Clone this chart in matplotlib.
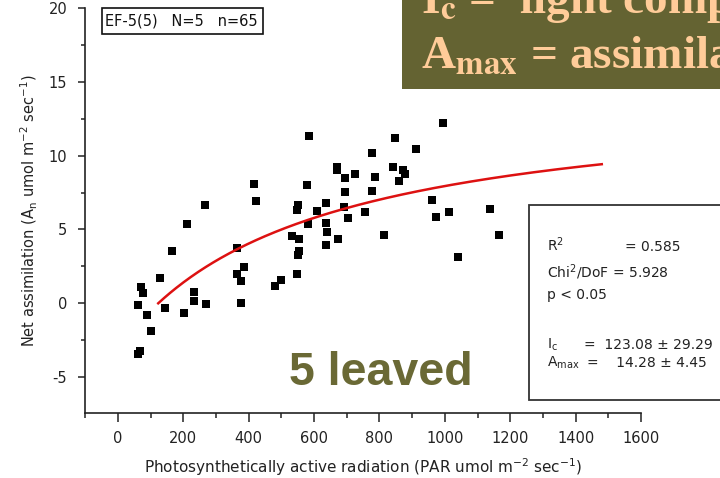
import numpy as np
import matplotlib
matplotlib.use("Agg")
import matplotlib.pyplot as plt
from matplotlib.patches import Rectangle
from matplotlib.ticker import MultipleLocator

plt.rcParams["axes.unicode_minus"] = False
plt.rcParams["font.family"] = ["DejaVu Sans"]

# Measured leaves: PAR (umol m-2 s-1) and net assimilation (umol m-2 s-1)
par = [416, 421, 266, 210, 164, 128, 69, 77, 62, 90, 101, 60, 67, 143, 203,
       233, 233, 269, 363, 387, 365, 376, 375, 585, 848, 912, 778, 669, 671,
       725, 694, 786, 840, 871, 879, 861, 577, 694, 778, 960, 972, 636, 552,
       547, 610, 691, 755, 705, 636, 580, 638, 532, 555, 674, 813, 636, 555,
       550, 548, 498, 480, 995, 1013, 1138, 1165, 1041]
assim = [8.08, 6.95, 6.64, 5.37, 3.56, 1.69, 1.12, 0.72, -0.14, -0.79, -1.88,
         -3.45, -3.23, -0.30, -0.68, 0.77, 0.16, -0.05, 3.72, 2.44, 1.98,
         1.51, 0.02, 11.33, 11.19, 10.43, 10.20, 9.25, 9.03, 8.76, 8.46,
         8.57, 9.21, 9.03, 8.76, 8.28, 8.03, 7.56, 7.62, 6.99, 5.86, 6.81,
         6.66, 6.32, 6.27, 6.54, 6.20, 5.76, 5.46, 5.35, 4.81, 4.56, 4.33,
         4.33, 4.64, 3.93, 3.54, 3.25, 1.98, 1.58, 1.19, 12.19, 6.18, 6.36,
         4.64, 3.11]

# Fitted light-response curve (rectangular hyperbola)
ic_fit = 123.08
amax_fit = 14.28
k_half = 700.0
par_fit_end = 1480

xticks = [0, 200, 400, 600, 800, 1000, 1200, 1400, 1600]
yticks = [-5, 0, 5, 10, 15, 20]

fig = plt.figure(figsize=(7.2, 4.78), dpi=100)
W, H = 720, 478
ax = fig.add_axes([85.3 / W, 1 - 413.3 / H, (641 - 85.3) / W, (413.3 - 8) / H])

ax.scatter(par, assim, marker="s", s=30, color="black", linewidths=0, zorder=3)

xf = np.linspace(ic_fit, par_fit_end, 300)
yf = amax_fit * (xf - ic_fit) / (k_half + (xf - ic_fit))
ax.plot(xf, yf, color="#dd1111", lw=1.8, zorder=4)

ax.set_xlim(-100, 1600)
ax.set_ylim(-7.45, 20)
ax.set_xticks(xticks)
ax.set_yticks(yticks)
ax.xaxis.set_minor_locator(MultipleLocator(100))
ax.yaxis.set_minor_locator(MultipleLocator(2.5))
for s in ["top", "right"]:
    ax.spines[s].set_visible(False)
for s in ["left", "bottom"]:
    ax.spines[s].set_linewidth(1.2)
    ax.spines[s].set_color("#222222")
ax.tick_params(axis="x", which="major", length=6.5, width=1.1, colors="#222222",
               labelsize=10.5, pad=6)
ax.tick_params(axis="x", which="minor", length=3.5, width=1.1, colors="#222222")
ax.tick_params(axis="y", which="major", length=5, width=1.1, colors="#222222",
               labelsize=10.5, pad=8)
ax.tick_params(axis="y", which="minor", length=3, width=1.1, colors="#222222")

ax.set_xlabel(r"Photosynthetically active radiation (PAR umol m$^{\mathregular{-2}}$ sec$^{\mathregular{-1}}$)",
              fontsize=11, color="#222222", labelpad=8)
ax.set_ylabel(r"Net assimilation (A$_{\mathregular{n}}$ umol m$^{\mathregular{-2}}$ sec$^{\mathregular{-1}}$)",
              fontsize=10.5, color="#222222", labelpad=6)

# Sample label box
fig.patches.append(Rectangle((102 / W, 1 - 34 / H), 161 / W, 26 / H,
                             transform=fig.transFigure, fc="white",
                             ec="#111111", lw=1.2, zorder=5))
fig.text(105 / W, 1 - 21 / H, "EF-5(5)   N=5   n=65", fontsize=10.5,
         color="#111111", va="center", ha="left", zorder=6)

# Fit statistics box
fig.patches.append(Rectangle((529 / W, 1 - 400 / H), 250 / W, 195 / H,
                             transform=fig.transFigure, fc="white",
                             ec="#333333", lw=1.3, zorder=5))
stat_kw = dict(fontsize=10, color="#222222", va="baseline", ha="left", zorder=6)
fig.text(547 / W, 1 - 251 / H, r"R$^{\mathregular{2}}$", **stat_kw)
fig.text(625 / W, 1 - 251 / H, "= 0.585", **stat_kw)
fig.text(547 / W, 1 - 277 / H, r"Chi$^{\mathregular{2}}$/DoF = 5.928", **stat_kw)
fig.text(547 / W, 1 - 299 / H, "p < 0.05", **stat_kw)
fig.text(547 / W, 1 - 349 / H, r"I$_{\mathregular{c}}$", **stat_kw)
fig.text(584 / W, 1 - 349 / H, "=  123.08 ± 29.29", **stat_kw)
fig.text(547 / W, 1 - 367 / H, r"A$_{\mathregular{max}}$", **stat_kw)
fig.text(587 / W, 1 - 367 / H, "=    14.28 ± 4.45", **stat_kw)

# Heading banner
fig.patches.append(Rectangle((401.7 / W, 1 - 89.3 / H), 330 / W, 90 / H,
                             transform=fig.transFigure, fc="#646332",
                             ec="none", zorder=5))
ban_kw = dict(fontsize=34, color="#ffcc99", family="Liberation Serif",
              weight="bold", va="baseline", ha="left", zorder=6,
              math_fontfamily="stix")
fig.text(421 / W, 1 - 13 / H, r"I$_\mathbf{c}$ =  light compensation point", **ban_kw)
fig.text(421 / W, 1 - 68 / H, r"A$_\mathbf{max}$ = assimilation maximum", **ban_kw)

fig.text(289 / W, 1 - 385 / H, "5 leaved", fontsize=33.5, color="#6a6935",
         family="Liberation Sans", weight="bold", va="baseline", ha="left",
         zorder=6)

fig.savefig("out.png", dpi=100)
